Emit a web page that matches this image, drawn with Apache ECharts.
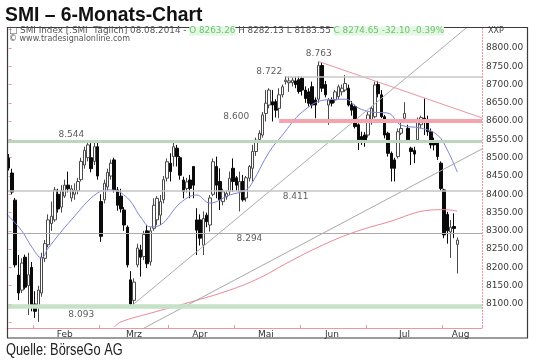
<!DOCTYPE html>
<html>
<head>
<meta charset="utf-8">
<script src="https://cdn.jsdelivr.net/npm/echarts@6/dist/echarts.min.js"></script>
<style>
  html, body { margin: 0; padding: 0; background: #ffffff; }
  #chart { width: 540px; height: 363px; }
</style>
</head>
<body>
<div id="chart"></div>
<script>
// SIX trading days shown on the axis (the last seven August days stay empty)
const tradingDays = [
  ['2014-01', [22, 23, 24, 27, 28, 29, 30, 31]],
  ['2014-02', [3, 4, 5, 6, 7, 10, 11, 12, 13, 14, 17, 18, 19, 20, 21, 24, 25, 26, 27, 28]],
  ['2014-03', [3, 4, 5, 6, 7, 10, 11, 12, 13, 14, 17, 18, 19, 20, 21, 24, 25, 26, 27, 28, 31]],
  ['2014-04', [1, 2, 3, 4, 7, 8, 9, 10, 11, 14, 15, 16, 17, 22, 23, 24, 25, 28, 29, 30]],
  ['2014-05', [2, 5, 6, 7, 8, 9, 12, 13, 14, 15, 16, 19, 20, 21, 22, 23, 26, 27, 28, 30]],
  ['2014-06', [2, 3, 4, 5, 6, 10, 11, 12, 13, 16, 17, 18, 19, 20, 23, 24, 25, 26, 27, 30]],
  ['2014-07', [1, 2, 3, 4, 7, 8, 9, 10, 11, 14, 15, 16, 17, 18, 21, 22, 23, 24, 25, 28, 29, 30, 31]],
  ['2014-08', [4, 5, 6, 7, 8, 11, 12, 13, 14, 15, 18, 19]]
];
const monthNames = { '02': 'Feb', '03': 'Mrz', '04': 'Apr', '05': 'Mai', '06': 'Jun', '07': 'Jul', '08': 'Aug' };

// SMI daily candles
const open = [
  8499, 8458, 8384, 8179, 8138, 8228, 8150, 8200, 8100, 8092,
  8130, 8225, 8262, 8320, 8330, 8400, 8365, 8395, 8425, 8390,
  8400, 8410, 8440, 8480, 8500, 8500, 8490, 8530, 8380, 8385,
  8420, 8450, 8494, 8412, 8395, 8357, 8310, 8166, 8110, 8207,
  8248, 8230, 8300, 8215, 8307, 8330, 8343, 8385, 8444, 8485,
  8503, 8526, 8500, 8439, 8416, 8439, 8476, 8330, 8330, 8261,
  8343, 8316, 8400, 8476, 8435, 8380, 8393, 8407, 8471, 8445,
  8407, 8435, 8390, 8444, 8471, 8517, 8550, 8562, 8621, 8644,
  8653, 8653, 8635, 8672, 8708, 8705, 8705, 8710, 8713, 8717,
  8685, 8680, 8694, 8658, 8660, 8752, 8700, 8644, 8658, 8658,
  8667, 8680, 8685, 8690, 8645, 8640, 8590, 8558, 8562, 8562,
  8600, 8612, 8700, 8672, 8612, 8567, 8512, 8494, 8503, 8567,
  8608, 8580, 8526, 8520, 8549, 8590, 8608, 8603, 8571, 8544,
  8540, 8485, 8412, 8345, 8297, 8312, 8263.26
];
const high = [
  8510, 8470, 8390, 8234, 8225, 8235, 8240, 8215, 8135, 8150,
  8240, 8275, 8345, 8380, 8420, 8415, 8425, 8440, 8462, 8425,
  8430, 8445, 8500, 8530, 8544, 8540, 8544, 8544, 8400, 8440,
  8470, 8495, 8500, 8420, 8415, 8365, 8315, 8190, 8170, 8265,
  8262, 8300, 8315, 8310, 8389, 8395, 8398, 8450, 8498, 8512,
  8548, 8535, 8505, 8448, 8445, 8453, 8476, 8362, 8345, 8353,
  8350, 8398, 8498, 8503, 8471, 8415, 8410, 8462, 8498, 8450,
  8462, 8453, 8450, 8480, 8535, 8555, 8575, 8625, 8685, 8690,
  8685, 8660, 8690, 8700, 8722, 8722, 8720, 8722, 8722, 8722,
  8695, 8690, 8708, 8665, 8763, 8760, 8710, 8663, 8665, 8685,
  8700, 8700, 8726, 8700, 8655, 8645, 8594, 8571, 8570, 8625,
  8640, 8708, 8710, 8685, 8617, 8571, 8517, 8500, 8580, 8599,
  8652, 8590, 8530, 8530, 8610, 8615, 8662, 8615, 8580, 8555,
  8545, 8490, 8415, 8352, 8330, 8348, 8282.13
];
const low = [
  8465, 8400, 8200, 8111, 8130, 8140, 8070, 8080, 8062, 8051,
  8120, 8215, 8255, 8300, 8325, 8350, 8350, 8390, 8405, 8380,
  8385, 8400, 8435, 8470, 8490, 8460, 8480, 8440, 8270, 8375,
  8410, 8440, 8405, 8355, 8350, 8300, 8200, 8093, 8093, 8200,
  8175, 8220, 8198, 8205, 8300, 8316, 8316, 8375, 8435, 8435,
  8476, 8476, 8440, 8389, 8405, 8389, 8389, 8234, 8260, 8234,
  8310, 8298, 8395, 8389, 8357, 8370, 8385, 8398, 8407, 8410,
  8353, 8380, 8380, 8435, 8435, 8505, 8540, 8555, 8599, 8635,
  8599, 8610, 8608, 8665, 8700, 8680, 8695, 8690, 8675, 8670,
  8650, 8640, 8635, 8608, 8650, 8680, 8665, 8590, 8640, 8650,
  8660, 8670, 8680, 8640, 8615, 8580, 8521, 8535, 8530, 8555,
  8590, 8608, 8665, 8608, 8553, 8503, 8435, 8435, 8498, 8562,
  8600, 8540, 8480, 8485, 8540, 8580, 8562, 8560, 8525, 8520,
  8494, 8410, 8280, 8265, 8226, 8280, 8183.55
];
const close = [
  8472, 8406, 8207, 8130, 8212, 8146, 8180, 8092, 8080, 8138,
  8228, 8265, 8330, 8340, 8412, 8360, 8410, 8425, 8415, 8415,
  8410, 8435, 8490, 8520, 8535, 8470, 8530, 8450, 8285, 8430,
  8460, 8485, 8412, 8370, 8360, 8316, 8207, 8100, 8160, 8253,
  8228, 8290, 8210, 8300, 8370, 8389, 8380, 8440, 8489, 8462,
  8530, 8503, 8452, 8407, 8434, 8416, 8425, 8302, 8280, 8334,
  8325, 8390, 8489, 8425, 8385, 8407, 8402, 8444, 8435, 8425,
  8435, 8385, 8445, 8476, 8517, 8548, 8567, 8617, 8649, 8685,
  8644, 8630, 8672, 8694, 8712, 8710, 8712, 8700, 8681, 8685,
  8662, 8649, 8644, 8644, 8752, 8690, 8672, 8658, 8649, 8680,
  8694, 8690, 8703, 8644, 8630, 8585, 8549, 8549, 8544, 8617,
  8635, 8699, 8675, 8612, 8562, 8512, 8471, 8471, 8571, 8580,
  8621, 8549, 8517, 8510, 8603, 8610, 8603, 8571, 8535, 8535,
  8503, 8416, 8289, 8300, 8310, 8306.75, 8274.65
];

// moving averages, [day index, value]
const ma20 = [
  [-0.5, 8345], [4, 8300], [7, 8256], [10, 8226], [12, 8253], [19, 8330], [27, 8404],
  [31, 8412], [36, 8390], [40, 8338], [43, 8311], [46, 8316], [52, 8376], [57, 8398],
  [61, 8376], [67, 8398], [72, 8412], [74, 8434], [79, 8516], [83, 8562], [89, 8625],
  [96, 8658], [102, 8660], [106, 8636], [110, 8625], [115, 8622], [119, 8589],
  [125, 8581], [130, 8562], [133, 8521], [136, 8461]
];
const ma200 = [
  [32, 8037], [34, 8051], [43, 8075], [55, 8105], [67, 8138], [76, 8171], [85, 8215],
  [94, 8256], [104, 8294], [115, 8324], [128, 8357], [132, 8358], [136, 8354]
];

// trend lines, [day index, value]
const trendUpSteep = [[37, 8093], [139, 8857]];
const trendUpFlat = [[41, 8034], [143.5, 8524]];
const trendDown = [[94, 8763], [143.5, 8609]];

// support / resistance levels
const levels = [8763, 8722, 8600, 8544, 8411, 8294, 8093];

// ---------------------------------------------------------------
const dates = tradingDays.flatMap(([m, days]) => days.map(d => m + '-' + String(d).padStart(2, '0')));
const lastIdx = close.length - 1;
const n = dates.length;

const monthStarts = [];
dates.forEach((d, i) => { if (i > 0 && d.slice(5, 7) !== dates[i - 1].slice(5, 7)) monthStarts.push(i); });
const monthLabelAt = {};
monthStarts.forEach((s, k) => {
  const e = k + 1 < monthStarts.length ? monthStarts[k + 1] : n;
  monthLabelAt[Math.floor((s + e - 1) / 2)] = monthNames[dates[s].slice(5, 7)];
});
const tickSet = new Set(monthStarts);

const fmtLevel = v => (v / 1000).toFixed(3);

// how each level is drawn: start index, line style, label anchor
const levelLook = {
  8763: { from: null, line: null, labelAt: 94, dy: -8 },
  8722: { from: 84, line: { color: '#c9c9c9', width: 1.5 }, labelAt: 79, dy: -5 },
  8600: { from: 82, line: { color: '#f5a3ac', width: 4 }, labelAt: 69, dy: -4 },
  8544: { from: -0.5, line: { color: '#bcd6bc', width: 3 }, labelAt: 19, dy: -7 },
  8411: { from: -0.5, line: { color: '#c4c4c4', width: 1.5 }, labelAt: 87, dy: 6 },
  8294: { from: -0.5, line: { color: '#ababab', width: 1 }, labelAt: 73, dy: 6 },
  8093: { from: -0.5, line: { color: '#c6e2c6', width: 4.5 }, labelAt: 22, dy: 8 }
};

const levelLines = levels.filter(v => levelLook[v].line).map(v => [
  { coord: [levelLook[v].from, v], lineStyle: { color: levelLook[v].line.color, width: levelLook[v].line.width, type: 'solid' } },
  { coord: [n - 0.5, v] }
]);
const levelLabels = levels.map(v => ({
  value: [levelLook[v].labelAt, v],
  label: { offset: [0, levelLook[v].dy] }
}));

const lastClose = close[lastIdx];
const prevClose = close[lastIdx - 1];
const chg = lastClose - prevClose;
const pct = chg / prevClose * 100;
const lastDate = dates[lastIdx].split('-').reverse().join('.');

const smallFont = '"DejaVu Sans", sans-serif';
const pink = '#ee97a4';

const chart = echarts.init(document.getElementById('chart'), null, { renderer: 'canvas', width: 540, height: 363 });

chart.setOption({
  animation: false,
  backgroundColor: '#ffffff',
  grid: { left: 7, right: 58, top: 29.7, bottom: 40.7, containLabel: false, outerBoundsMode: 'none' },
  xAxis: [
    {
      type: 'category',
      data: dates,
      boundaryGap: true,
      offset: 5.7,
      axisLine: { show: true, lineStyle: { color: pink, width: 1 } },
      axisTick: { show: true, inside: true, length: 3, interval: (i) => tickSet.has(i), lineStyle: { color: pink } },
      axisLabel: {
        interval: (i) => monthLabelAt[i] !== undefined,
        formatter: (val, i) => monthLabelAt[i] || '',
        color: '#333', fontSize: 9, fontFamily: smallFont, margin: 2
      },
      splitLine: { show: false }
    },
    { type: 'value', min: -0.5, max: n - 0.5, show: false }
  ],
  yAxis: {
    type: 'value',
    position: 'right',
    min: 8050, max: 8850, interval: 50,
    axisLine: { show: false },
    axisTick: { show: true, length: 3, lineStyle: { color: pink } },
    axisLabel: {
      formatter: v => (v >= 8100 && v <= 8800) ? v.toFixed(2) : '',
      color: '#3a3a3a', fontSize: 9, fontFamily: smallFont, margin: 4
    },
    splitLine: { show: false }
  },
  series: [
    {
      name: 'levels',
      type: 'line',
      xAxisIndex: 1,
      data: [],
      z: 1,
      markLine: {
        silent: true, symbol: ['none', 'none'], label: { show: false },
        data: levelLines
      }
    },
    {
      name: 'level labels',
      type: 'scatter',
      xAxisIndex: 1,
      symbolSize: 0,
      z: 5,
      data: levelLabels,
      label: {
        show: true, position: 'inside',
        formatter: p => fmtLevel(p.value[1]),
        color: '#333', fontSize: 9, fontFamily: smallFont
      }
    },
    {
      name: 'SMI',
      type: 'candlestick',
      xAxisIndex: 0,
      barWidth: 3,
      z: 3,
      data: open.map((o, i) => [o, close[i], low[i], high[i]]),
      itemStyle: { color: '#ffffff', color0: '#0a0a0a', borderColor: '#4a4a4a', borderColor0: '#0a0a0a', borderWidth: 1 },
      markLine: {
        silent: true, symbol: ['none', 'none'],
        lineStyle: { opacity: 0 },
        label: {
          show: true, position: 'end', distance: 2,
          formatter: () => lastClose.toFixed(2),
          color: '#222', fontSize: 9, fontFamily: smallFont,
          backgroundColor: '#ffffff', borderColor: '#555', borderWidth: 1, padding: [1, 2, 0, 2]
        },
        data: [{ yAxis: lastClose }]
      }
    },
    {
      name: 'MA 200', type: 'line', xAxisIndex: 1, data: ma200, smooth: 0.4, clip: false,
      showSymbol: false, z: 4, lineStyle: { color: '#ec8696', width: 1 }
    },
    {
      name: 'MA 20', type: 'line', xAxisIndex: 1, data: ma20, smooth: 0.4, clip: false,
      showSymbol: false, z: 4, lineStyle: { color: '#7d84d8', width: 1 }
    },
    {
      name: 'Trend 1', type: 'line', xAxisIndex: 1, data: trendUpSteep, clip: false,
      showSymbol: false, z: 4, lineStyle: { color: '#a6afa6', width: 1 }
    },
    {
      name: 'Trend 2', type: 'line', xAxisIndex: 1, data: trendUpFlat, clip: false,
      showSymbol: false, z: 4, lineStyle: { color: '#a9a9a9', width: 1 }
    },
    {
      name: 'Trend 3', type: 'line', xAxisIndex: 1, data: trendDown, clip: false,
      showSymbol: false, z: 4, lineStyle: { color: '#eb95a2', width: 1 }
    }
  ],
  graphic: [
    {
      type: 'text', x: 5, y: 15, scaleX: 0.92, z: 50,
      style: { text: 'SMI – 6-Monats-Chart', font: 'bold 21px "Liberation Sans", Arial, sans-serif', fill: '#111', verticalAlign: 'middle', align: 'left' }
    },
    {
      type: 'rect', z: 40, silent: true,
      shape: { x: 7.5, y: 27.5, width: 520, height: 310.5 },
      style: { fill: 'none', stroke: '#3a3a3a', lineWidth: 1.2 }
    },
    {
      type: 'line', z: 40, silent: true,
      shape: { x1: 482.5, y1: 28, x2: 482.5, y2: 328 },
      style: { stroke: pink, lineWidth: 1, lineDash: [2, 1] }
    },
    {
      type: 'text', x: 9, y: 31, z: 50,
      style: {
        text: '{n|□ SMI Index [.SMI  Täglich] ' + lastDate + ' - }{g|O ' + open[lastIdx].toFixed(2) + '}{n| H ' + high[lastIdx].toFixed(2) +
              ' L ' + low[lastIdx].toFixed(2) + ' }{g|C ' + lastClose.toFixed(2) + ' ' + chg.toFixed(2) + ' ' + pct.toFixed(2) + '%}',
        verticalAlign: 'middle', align: 'left',
        rich: {
          n: { fill: '#555', font: '8.8px ' + smallFont },
          g: { fill: '#6cc46c', font: '8.8px ' + smallFont, backgroundColor: '#e4f6e4' }
        }
      }
    },
    {
      type: 'text', x: 9, y: 38.5, z: 50,
      style: { text: '© www.tradesignalonline.com', font: '8px ' + smallFont, fill: '#555', verticalAlign: 'middle', align: 'left' }
    },
    {
      type: 'text', x: 488, y: 31, z: 50,
      style: { text: 'XXP', font: '8px ' + smallFont, fill: '#444', verticalAlign: 'middle', align: 'left' }
    },
    {
      type: 'text', x: 6, y: 351, scaleX: 0.8, z: 50,
      style: { text: 'Quelle: BörseGo AG', font: '16px "Liberation Sans", Arial, sans-serif', fill: '#222', verticalAlign: 'middle', align: 'left' }
    }
  ]
});
</script>
</body>
</html>
